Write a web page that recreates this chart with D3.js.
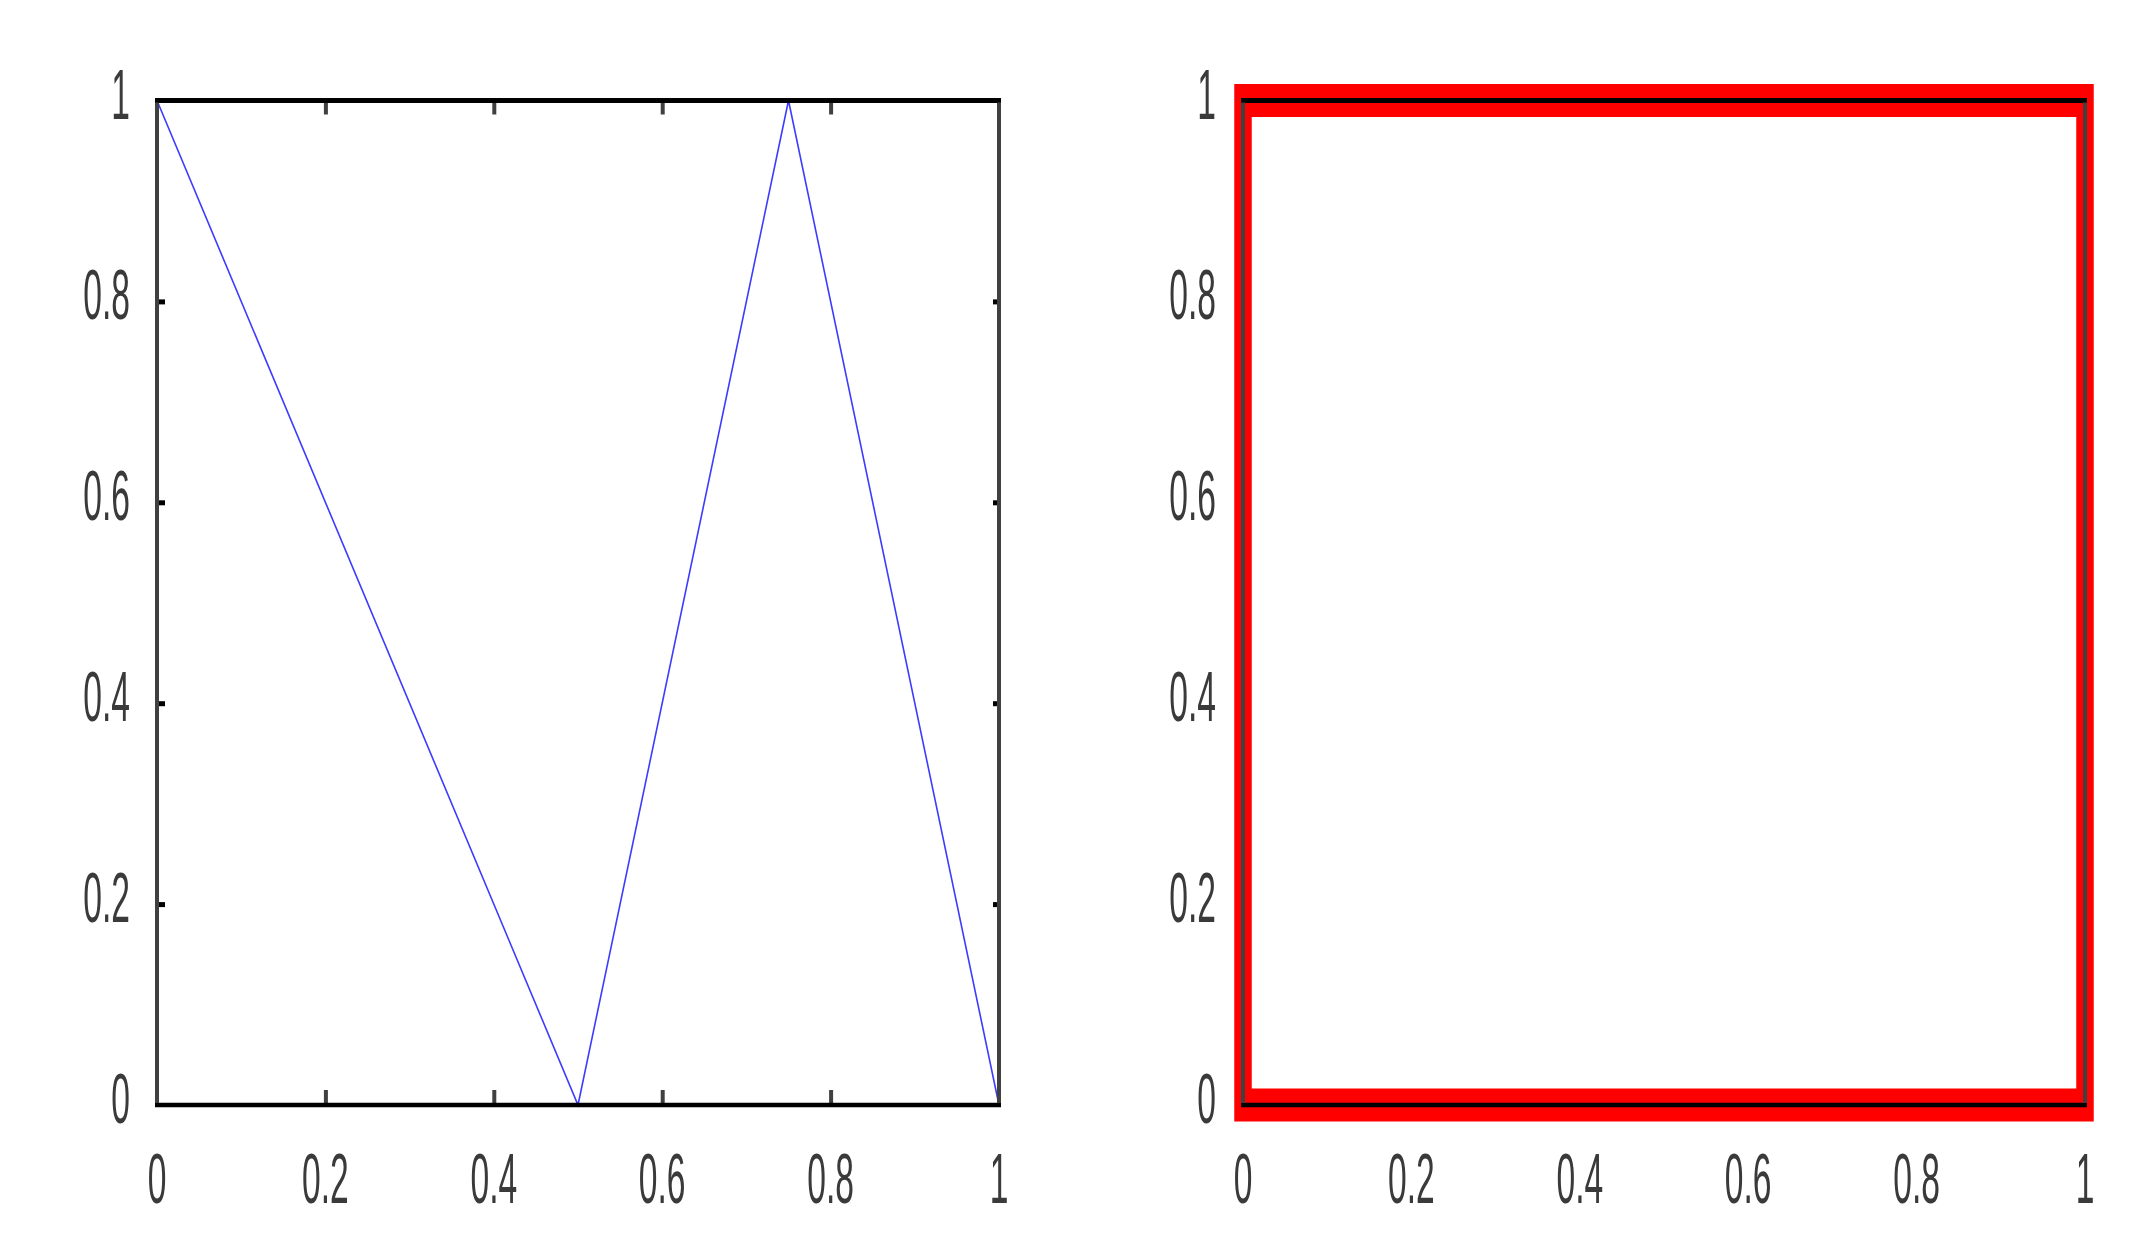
<!DOCTYPE html>
<html>
<head>
<meta charset="utf-8">
<script src="https://cdn.jsdelivr.net/npm/d3@7"></script>
<style>
  html, body { margin: 0; padding: 0; background: #fff; }
  svg { display: block; }
</style>
</head>
<body>
<svg id="chart"></svg>
<script>
// data
var tickValues = [0, 0.2, 0.4, 0.6, 0.8, 1];
var tickLabels = ["0", "0.2", "0.4", "0.6", "0.8", "1"];
var innerTicks = [0.2, 0.4, 0.6, 0.8];

var zigzagX = [0, 0.5, 0.75, 1];
var zigzagY = [1, 0, 1, 0];

var squareX = [0, 1, 1, 0];
var squareY = [0, 0, 1, 1];

var width = 2152, height = 1248;
var squeeze = 0.53;   // the picture is squashed sideways
var yTop = 100.5, yBottom = 1105;
var panels = [{x0: 157, x1: 999}, {x0: 1243, x1: 2085}];

var svg = d3.select("#chart")
    .attr("width", width)
    .attr("height", height);

var y = d3.scaleLinear().domain([0, 1]).range([yBottom, yTop]);

function drawPanel(p, drawData){
    var x = d3.scaleLinear().domain([0, 1]).range([p.x0, p.x1]);
    var g = svg.append("g");

    // ticks (inward, no labels)
    var axes = [
        {ax: d3.axisBottom(x).tickSize(-15), tr: "translate(0," + yBottom + ")", vert: true},
        {ax: d3.axisTop(x).tickSize(-14),    tr: "translate(0," + yTop + ")",    vert: true},
        {ax: d3.axisLeft(y).tickSize(-8),    tr: "translate(" + p.x0 + ",0)",   vert: false},
        {ax: d3.axisRight(y).tickSize(-6),   tr: "translate(" + p.x1 + ",0)",   vert: false}
    ];
    axes.forEach(function(a){
        var ag = g.append("g")
            .attr("transform", a.tr)
            .call(a.ax.tickValues(innerTicks).tickFormat(""));
        ag.select(".domain").remove();
        ag.selectAll(".tick text").remove();
        ag.selectAll(".tick line")
            .attr("stroke", a.vert ? "#404040" : "#000")
            .attr("stroke-width", a.vert ? 4 : 5);
    });

    drawData(g, x);

    // box
    g.append("line")
        .attr("x1", p.x0 - 2).attr("x2", p.x1 + 2)
        .attr("y1", yTop).attr("y2", yTop)
        .attr("stroke", "#000").attr("stroke-width", 5);
    g.append("line")
        .attr("x1", p.x0 - 2).attr("x2", p.x1 + 2)
        .attr("y1", yBottom).attr("y2", yBottom)
        .attr("stroke", "#000").attr("stroke-width", 4.5);
    [p.x0, p.x1].forEach(function(xx){
        g.append("line")
            .attr("x1", xx).attr("x2", xx)
            .attr("y1", yTop + 2).attr("y2", yBottom - 2)
            .attr("stroke", "#404040").attr("stroke-width", 4);
    });

    // tick labels, narrow like the original
    g.selectAll(".xlab")
        .data(tickValues)
        .enter()
        .append("text")
            .attr("class", "xlab")
            .attr("transform", (d) => "translate(" + x(d) + ",1203) scale(0.48,1)")
            .attr("text-anchor", "middle")
            .text((d, i) => tickLabels[i]);
    g.selectAll(".ylab")
        .data(tickValues)
        .enter()
        .append("text")
            .attr("class", "ylab")
            .attr("transform", (d) => "translate(" + (p.x0 - 27) + "," + (y(d) + 18) + ") scale(0.48,1)")
            .attr("text-anchor", "end")
            .text((d, i) => tickLabels[i]);
    g.selectAll("text")
        .attr("font-family", "Liberation Sans, Arial, sans-serif")
        .attr("font-size", 70)
        .attr("fill", "#3a3a3a");
}

// left: blue zigzag
drawPanel(panels[0], function(g, x){
    var line = d3.line()
        .x(d => x(d[0]))
        .y(d => y(d[1]));
    g.append("path")
        .datum(d3.zip(zigzagX, zigzagY))
        .attr("d", line)
        .attr("fill", "none")
        .attr("stroke", "#3c3cff")
        .attr("stroke-width", 1.6);
});

// right: thick red square
drawPanel(panels[1], function(g, x){
    var xs = d3.scaleLinear().domain([0, 1])
        .range([x.range()[0] / squeeze, x.range()[1] / squeeze]);
    var line = d3.line()
        .x(d => xs(d[0]))
        .y(d => y(d[1]))
        .curve(d3.curveLinearClosed);
    g.append("g")
        .attr("transform", "scale(" + squeeze + ",1)")
        .append("path")
            .datum(d3.zip(squareX, squareY))
            .attr("d", line)
            .attr("fill", "none")
            .attr("stroke", "#ff0000")
            .attr("stroke-width", 33)
            .attr("stroke-linejoin", "miter");
});
</script>
</body>
</html>
